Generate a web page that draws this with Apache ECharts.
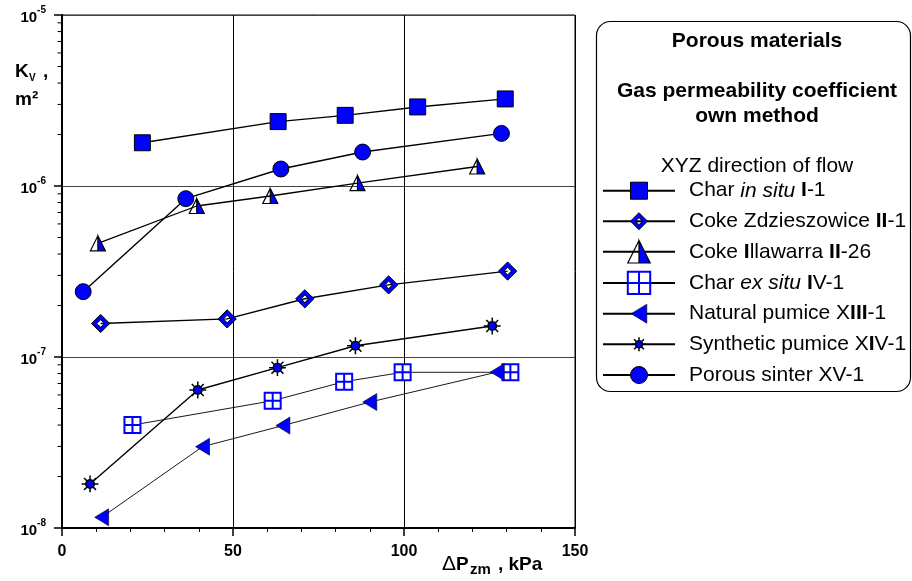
<!DOCTYPE html>
<html>
<head>
<meta charset="utf-8">
<script src="https://cdn.jsdelivr.net/npm/echarts@6/dist/echarts.min.js"></script>
<style>
  html, body { margin: 0; padding: 0; background: #fff; }
  #chart { width: 912px; height: 581px; }
</style>
</head>
<body>
<div id="chart"></div>
<script>
const FONT = "Arial, 'Liberation Sans', sans-serif";
const BLUE = '#0000ff';

// Pressure difference ΔPzm [kPa] and gas permeability coefficient Kv [m²]
const charInSituX = [23.5, 63.2, 82.8, 104.0, 129.6];
const charInSituY = [1.79e-6, 2.38e-6, 2.59e-6, 2.90e-6, 3.23e-6];

const cokeZdzX = [11.3, 48.3, 71.0, 95.5, 130.3];
const cokeZdzY = [1.57e-7, 1.67e-7, 2.19e-7, 2.64e-7, 3.18e-7];

const cokeIllX = [10.5, 39.4, 60.9, 86.4, 121.4];
const cokeIllY = [4.62e-7, 7.64e-7, 8.74e-7, 1.04e-6, 1.30e-6];

const charExSituX = [20.6, 61.6, 82.5, 99.6, 131.1];
const charExSituY = [4.00e-8, 5.55e-8, 7.17e-8, 8.14e-8, 8.14e-8];

const natPumiceX = [11.6, 41.1, 64.6, 90.0, 127.3];
const natPumiceY = [1.155e-8, 2.99e-8, 3.97e-8, 5.45e-8, 8.17e-8];

const synPumiceX = [8.2, 39.7, 63.0, 85.8, 125.8];
const synPumiceY = [1.81e-8, 6.41e-8, 8.66e-8, 1.164e-7, 1.518e-7];

const sinterX = [6.2, 36.2, 64.0, 87.9, 128.5];
const sinterY = [2.41e-7, 8.43e-7, 1.257e-6, 1.58e-6, 2.03e-6];

const seriesNames = [
  'Char in situ I-1',
  'Coke Zdzieszowice II-1',
  'Coke Illawarra II-26',
  'Char ex situ IV-1',
  'Natural pumice XIII-1',
  'Synthetic pumice XIV-1',
  'Porous sinter XV-1'
];

// legend captions with italic / bold fragments
const legendRich = {
  'Char in situ I-1': '{n0|Char }{i|in situ}{n| }{b|I}{n|-1}',
  'Coke Zdzieszowice II-1': '{n0|Coke Zdzieszowice }{b|II}{n|-1}',
  'Coke Illawarra II-26': '{n0|Coke }{b|I}{n|llawarra }{b|II}{n|-26}',
  'Char ex situ IV-1': '{n0|Char }{i|ex situ}{n| }{b|I}{n|V-1}',
  'Natural pumice XIII-1': '{n0|Natural pumice X}{b|III}{n|-1}',
  'Synthetic pumice XIV-1': '{n0|Synthetic pumice X}{b|I}{n|V-1}',
  'Porous sinter XV-1': '{n0|Porous sinter XV-1}'
};

// minor ticks of the logarithmic axis (2..9 in every decade)
const logDecades = [-8, -7, -6];
const logMinorSteps = [2, 3, 4, 5, 6, 7, 8, 9];

// marker outlines; the leading moves set the symbol box so the shape
// fills only a fraction of it
function padded(body, frac) {
  const p = (1 / frac).toFixed(3);
  return 'path://M-' + p + ',-' + p + ' M' + p + ',' + p + ' ' + body;
}
const SYM_SQUARE = padded('M-1,-1 L1,-1 L1,1 L-1,1 Z', 0.76);
const SYM_DIAMOND = padded('M0,-1 L1,0 L0,1 L-1,0 Z M0,-0.42 L-0.42,0 L0,0.42 L0.42,0 Z', 0.76);
const SYM_HALFTRI = padded('M0,-1 L1,1 L0,1 Z M0,-1 L-1,1 L0,1 L-1,1 Z', 1.0);
const SYM_GRIDSQ = padded('M-1,-1 L1,-1 L1,1 L-1,1 Z M0,-1 L0,1 M-1,0 L1,0', 1.0);
const SYM_LEFTTRI = padded('M-0.82,0 L0.82,-1 L0.82,1 Z', 0.85);
const SYM_STAR = padded(
  'M-0.5,0 A0.5,0.5 0 1,0 0.5,0 A0.5,0.5 0 1,0 -0.5,0 Z ' +
  'M0,-0.5 L0,-1 M0,0.5 L0,1 M-0.5,0 L-1,0 M0.5,0 L1,0 ' +
  'M0.354,0.354 L0.707,0.707 M-0.354,-0.354 L-0.707,-0.707 ' +
  'M0.354,-0.354 L0.707,-0.707 M-0.354,0.354 L-0.707,0.707', 0.625);
const SYM_CIRCLE = padded('M-1,0 A1,1 0 1,0 1,0 A1,1 0 1,0 -1,0 Z', 0.76);

function zip(xs, ys) { return xs.map((x, i) => [x, ys[i]]); }

function lineSeries(name, xs, ys, symbol, size, fill, border, borderWidth, lineWidth) {
  return {
    type: 'line',
    name: name,
    data: zip(xs, ys),
    symbol: symbol,
    symbolSize: size,
    showSymbol: true,
    showAllSymbol: true,
    itemStyle: { color: fill, borderColor: border, borderWidth: borderWidth, opacity: 1 },
    lineStyle: { color: '#000', width: lineWidth },
    emphasis: { disabled: true },
    silent: true,
    z: 3
  };
}

const plotSeries = [
  lineSeries(seriesNames[0], charInSituX, charInSituY, SYM_SQUARE, 21, BLUE, '#000', 1, 1.4),
  lineSeries(seriesNames[1], cokeZdzX, cokeZdzY, SYM_DIAMOND, 24, BLUE, '#000', 1, 1.4),
  lineSeries(seriesNames[2], cokeIllX, cokeIllY, SYM_HALFTRI, 15, BLUE, '#000', 1.2, 1.3),
  lineSeries(seriesNames[3], charExSituX, charExSituY, SYM_GRIDSQ, 16, '#fff', BLUE, 2, 0.9),
  lineSeries(seriesNames[4], natPumiceX, natPumiceY, SYM_LEFTTRI, 20, BLUE, '#000', 0.6, 0.9),
  lineSeries(seriesNames[5], synPumiceX, synPumiceY, SYM_STAR, 27, BLUE, '#000', 1.5, 1.4),
  lineSeries(seriesNames[6], sinterX, sinterY, SYM_CIRCLE, 21, BLUE, '#000', 1, 1.4)
];

const minorTickData = [];
logDecades.forEach(d => logMinorSteps.forEach(m => minorTickData.push([0, m * Math.pow(10, d)])));

const minorTickSeries = {
  type: 'custom',
  name: 'log-minor-ticks',
  data: minorTickData,
  encode: { x: 0, y: 1 },
  clip: false,
  silent: true,
  z: 5,
  renderItem: function (params, api) {
    const p = api.coord([api.value(0), api.value(1)]);
    return {
      type: 'line',
      shape: { x1: p[0] - 4.5, y1: p[1], x2: p[0] - 1, y2: p[1] },
      style: { stroke: '#000', lineWidth: 1 }
    };
  }
};

const legendBorder = [1, 1, 1.2, 2, 0.6, 1.5, 1];

// text helper: y is the baseline of the glyphs
function label(text, x, baseline, font, size) {
  return {
    type: 'text', x: x, y: baseline - 0.3465 * size, silent: true,
    style: { text: text, font: font + ' ' + size + 'px ' + FONT, fill: '#000', verticalAlign: 'middle' }
  };
}

const chart = echarts.init(document.getElementById('chart'), null, { renderer: 'canvas' });

chart.setOption({
  animation: false,
  backgroundColor: '#fff',
  textStyle: { fontFamily: FONT },
  grid: {
    left: 62, right: 337, top: 15, bottom: 53,
    show: true, borderColor: '#000', borderWidth: 1, backgroundColor: 'transparent'
  },
  xAxis: {
    type: 'value',
    min: 0, max: 150, interval: 50,
    axisLine: { show: true, onZero: false, lineStyle: { color: '#000', width: 2 } },
    axisTick: { show: true, inside: false, length: 8, lineStyle: { color: '#000', width: 1.5 } },
    minorTick: { show: true, splitNumber: 5, length: 4, lineStyle: { color: '#000', width: 1 } },
    splitLine: { show: true, lineStyle: { color: '#000', width: 1 } },
    axisLabel: { margin: 16, color: '#000', fontSize: 16, fontWeight: 'bold', fontFamily: FONT }
  },
  yAxis: {
    type: 'log',
    logBase: 10,
    min: 1e-8, max: 1e-5,
    axisLine: { show: true, lineStyle: { color: '#000', width: 2 } },
    axisTick: { show: true, inside: false, length: 8, lineStyle: { color: '#000', width: 1.5 } },
    splitLine: { show: true, lineStyle: { color: '#444', width: 1 } },
    axisLabel: {
      margin: 16,
      formatter: function (v) {
        const e = Math.round(Math.log10(v));
        return '{b|10}{s|' + e + '}';
      },
      rich: {
        b: { fontSize: 15, fontWeight: 'bold', color: '#000', fontFamily: FONT, lineHeight: 20, verticalAlign: 'bottom' },
        s: { fontSize: 10, fontWeight: 'bold', color: '#000', fontFamily: FONT, lineHeight: 20, verticalAlign: 'top' }
      }
    }
  },
  legend: {
    orient: 'vertical',
    left: 602,
    top: 179,
    padding: 0,
    itemWidth: 72,
    itemHeight: 28,
    itemGap: 7.1,
    selectedMode: false,
    data: seriesNames.map((n, i) => ({ name: n, itemStyle: { borderWidth: legendBorder[i] } })),
    formatter: function (name) { return legendRich[name]; },
    textStyle: {
      rich: {
        n0: { fontSize: 21, color: '#000', fontFamily: FONT, padding: [0, 0, 0, 9] },
        n: { fontSize: 21, color: '#000', fontFamily: FONT },
        i: { fontSize: 21, color: '#000', fontFamily: FONT, fontStyle: 'italic' },
        b: { fontSize: 21, color: '#000', fontFamily: FONT, fontWeight: 'bold' }
      }
    }
  },
  graphic: [
    {
      type: 'rect', z: 1, silent: true,
      shape: { x: 596.5, y: 21.5, width: 314, height: 370, r: 14 },
      style: { fill: 'none', stroke: '#000', lineWidth: 1.2 }
    },
    { type: 'text', x: 757, y: 41, silent: true,
      style: { text: 'Porous materials', font: 'bold 21px ' + FONT, fill: '#000', align: 'center', verticalAlign: 'middle' } },
    { type: 'text', x: 757, y: 91, silent: true,
      style: { text: 'Gas permeability coefficient', font: 'bold 21px ' + FONT, fill: '#000', align: 'center', verticalAlign: 'middle' } },
    { type: 'text', x: 757, y: 116, silent: true,
      style: { text: 'own method', font: 'bold 21px ' + FONT, fill: '#000', align: 'center', verticalAlign: 'middle' } },
    { type: 'text', x: 757, y: 166, silent: true,
      style: { text: 'XYZ direction of flow', font: '21px ' + FONT, fill: '#000', align: 'center', verticalAlign: 'middle' } },
    // y axis title
    label('K', 15, 78, 'bold', 19),
    label('V', 29, 82, 'bold', 10),
    label(',', 43, 78, 'bold', 19),
    label('m²', 15, 106, 'bold', 19),
    // x axis title
    label('Δ', 442, 571, 'normal', 21),
    label('P', 456, 571, 'bold', 19),
    label('zm', 470, 575, 'bold', 15),
    label(', kPa', 498, 571, 'bold', 19)
  ],
  series: plotSeries.concat([minorTickSeries])
});
</script>
</body>
</html>
